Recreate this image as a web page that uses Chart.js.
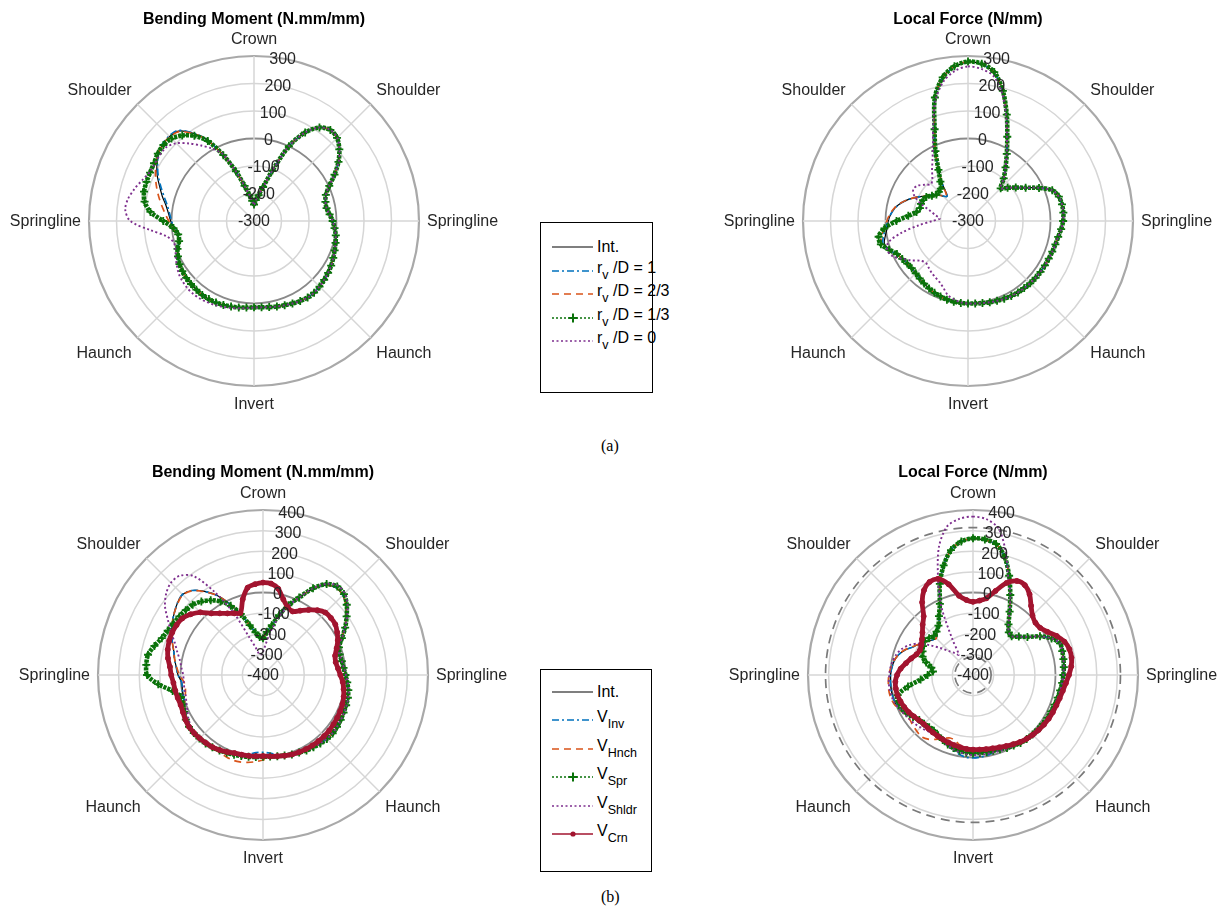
<!DOCTYPE html>
<html>
<head>
<meta charset="utf-8">
<script src="https://cdn.jsdelivr.net/npm/chart.js@4.4.1/dist/chart.umd.min.js"></script>
<style>
  html, body { margin: 0; padding: 0; background: #fff; }
  body { width: 1229px; height: 911px; position: relative; overflow: hidden;
         font-family: "Liberation Sans", Arial, Helvetica, sans-serif; }
  canvas { position: absolute; }
  .legend { position: absolute; border: 1.5px solid #000; background: #fff; box-sizing: border-box; }
  .legend svg { position: absolute; left: 11px; }
  .legend .lbl { position: absolute; left: 56px; font-size: 16px; line-height: 20px; color: #000; white-space: nowrap; }
  .legend sub { font-size: 12.5px; vertical-align: -6px; line-height: 0; }
  .cap { position: absolute; font-family: "Liberation Serif", "Times New Roman", serif; font-size: 16px; color: #000; }
</style>
</head>
<body>
<canvas id="bmA" width="500" height="440" style="left:4px;top:0px"></canvas>
<canvas id="lfA" width="500" height="440" style="left:718px;top:0px"></canvas>
<canvas id="bmB" width="500" height="440" style="left:13px;top:452px"></canvas>
<canvas id="lfB" width="500" height="440" style="left:723px;top:452px"></canvas>
<div class="legend" id="legA" style="left:540px;top:222px;width:113px;height:171px"></div>
<div class="legend" id="legB" style="left:540px;top:669px;width:112px;height:203px"></div>
<div class="cap" style="left:601px;top:437px">(a)</div>
<div class="cap" style="left:601px;top:888px">(b)</div>

<script>
// Angular positions around the ring, degrees clockwise from the crown
const ANGLES = [0,5,10,15,20,25,30,35,40,45,50,55,60,65,70,75,80,85,
  90,95,100,105,110,115,120,125,130,135,140,145,150,155,160,165,170,175,
  180,185,190,195,200,205,210,215,220,225,230,235,240,245,250,255,260,265,
  270,275,280,285,290,295,300,305,310,315,320,325,330,335,340,345,350,355];

const POSITION_LABELS = ['Crown','Shoulder','Springline','Haunch','Invert','Haunch','Springline','Shoulder'];
const TICKS_A = [-300,-200,-100,0,100,200,300];
const TICKS_B = [-400,-300,-200,-100,0,100,200,300,400];
const LIMIT_CIRCLES_B = [-312, 315];

// ---- (a) Bending moment, N.mm/mm ----
const BM_A_INT = [
 -240,-224,-205,-172,-105,0,72,115,132,
 127,105,75,38,2,-22,-31,-32,-24,
 -14,-6,2,7,12,18,24,29,33,
 37,40,40,36,31,26,22,18,15,
 14,16,19,22,25,27,28,28,26,
 24,22,18,13,5,-4,-18,-18,-8,
 3,12,25,45,65,88,108,125,133,
 134,127,90,40,-36,-108,-168,-205,-226];
const BM_A_R1 = [
 -240,-224,-205,-172,-105,0,72,115,132,
 127,105,75,38,2,-22,-31,-32,-24,
 -14,-6,2,7,12,18,24,29,33,
 37,40,40,36,31,26,22,18,15,
 14,16,19,22,25,27,28,28,26,
 24,22,18,13,5,-4,-18,-18,-8,
 0,8,20,38,60,84,105,124,135,
 137,130,92,42,-36,-108,-168,-205,-226];
const BM_A_R23 = [
 -240,-224,-205,-172,-105,0,72,115,132,
 127,105,75,38,2,-22,-31,-32,-24,
 -14,-6,2,7,12,18,24,29,33,
 37,40,40,36,31,26,22,18,15,
 14,16,19,22,25,27,28,28,26,
 24,22,18,13,5,-3,-16,-14,-4,
 10,25,42,60,78,95,112,126,133,
 133,124,88,40,-36,-108,-168,-205,-226];
const BM_A_R13 = [
 -240,-224,-205,-172,-105,0,72,115,132,
 127,105,75,38,2,-22,-31,-32,-24,
 -14,-6,2,7,12,18,24,29,33,
 37,40,40,36,31,26,22,18,15,
 14,16,19,22,25,27,28,28,26,
 24,22,18,13,5,-4,-18,-20,-6,
 30,78,104,114,116,117,120,127,130,
 124,106,78,36,-36,-108,-168,-205,-226];
const BM_A_R0 = [
 -240,-224,-205,-172,-105,0,72,115,132,
 128,106,76,38,2,-22,-31,-32,-24,
 -14,-6,2,7,12,18,24,29,33,
 37,40,40,36,31,26,22,18,15,
 15,18,22,27,32,37,41,44,45,
 44,40,34,24,14,4,2,22,79,
 150,170,165,150,133,119,117,118,117,
 100,68,35,4,-32,-108,-168,-205,-226];

// ---- (a) Local force, N/mm ----
const LF_A_INT = [
 278,272,248,190,112,38,-18,-62,-98,
 -132,-112,-88,-58,-15,26,42,47,48,
 46,40,33,29,26,24,23,22,21,
 20,18,17,15,12,9,6,3,1,
 0,-1,-2,-4,-8,-12,-17,-22,-27,
 -31,-33,-30,-24,-15,5,15,5,-5,
 -10,-18,-30,-48,-70,-95,-118,-135,-152,
 -172,-182,-140,-85,-20,55,165,230,263];
const LF_A_R1 = [
 278,272,248,190,112,38,-18,-62,-98,
 -132,-112,-88,-58,-15,26,42,47,48,
 46,40,33,29,26,24,23,22,21,
 20,18,17,15,12,9,6,3,1,
 0,-1,-2,-4,-8,-12,-17,-22,-27,
 -31,-33,-30,-24,-15,8,20,12,0,
 -8,-18,-30,-48,-70,-95,-118,-135,-152,
 -172,-182,-140,-85,-20,55,165,230,263];
const LF_A_R23 = [
 279,273,249,190,112,38,-18,-62,-98,
 -132,-112,-88,-58,-15,26,42,47,48,
 46,40,33,29,26,24,23,22,21,
 20,18,17,15,12,9,6,3,1,
 0,-1,-2,-4,-8,-12,-17,-22,-27,
 -31,-33,-30,-24,-15,10,25,20,5,
 -5,-15,-28,-47,-70,-95,-118,-136,-152,
 -170,-178,-138,-85,-20,55,165,230,265];
const LF_A_R13 = [
 280,274,250,190,112,38,-18,-62,-98,
 -132,-112,-88,-58,-15,26,42,47,48,
 46,40,33,29,26,24,23,22,21,
 20,18,17,15,12,9,6,3,1,
 0,-1,-2,-4,-8,-12,-17,-22,-27,
 -31,-33,-30,-24,-15,5,28,30,5,
 -40,-82,-110,-119,-118,-120,-125,-140,-150,
 -150,-146,-125,-85,-20,55,165,230,265];
const LF_A_R0 = [
 262,255,235,180,105,35,-18,-62,-98,
 -132,-112,-88,-58,-15,26,42,47,48,
 46,40,33,29,26,24,23,22,21,
 20,18,17,15,12,9,6,3,1,
 0,-3,-10,-20,-40,-55,-63,-70,-78,
 -84,-75,-50,-25,3,12,0,-55,-120,
 -170,-197,-180,-158,-118,-85,-70,-76,-95,
 -110,-98,-72,-42,2,70,155,215,248];

// ---- (b) Bending moment, N.mm/mm ----
const BM_B_INT = [
 -222,-190,-155,-100,-40,15,82,132,152,
 148,125,92,58,20,-8,-15,-12,-8,
 0,10,20,26,29,31,35,38,41,
 38,33,27,22,15,10,4,0,-3,
 -4,-1,3,7,11,16,22,28,33,
 36,38,36,30,15,5,0,-3,-4,
 12,22,35,48,68,88,108,125,142,
 152,135,95,45,-20,-85,-150,-190,-215];
const BM_B_INV = [
 -222,-190,-155,-100,-40,15,82,132,152,
 148,125,92,58,20,-8,-15,-12,-8,
 0,10,20,26,29,31,35,38,41,
 38,33,27,22,15,10,0,-8,-20,
 -25,-22,-10,3,11,16,22,28,33,
 36,38,36,30,15,5,0,-3,-4,
 12,22,35,48,68,88,108,125,142,
 152,135,95,45,-20,-85,-150,-190,-215];
const BM_B_HNCH = [
 -222,-190,-155,-100,-40,15,82,132,152,
 148,125,92,58,20,-8,-15,-12,-8,
 0,10,20,26,29,31,35,38,41,
 38,33,27,22,15,10,4,0,5,
 12,22,30,36,38,34,30,30,33,
 36,38,36,30,15,6,-10,-18,-15,
 5,20,35,48,68,88,108,125,140,
 150,133,93,45,-20,-85,-150,-190,-215];
const BM_B_SPR = [
 -222,-190,-155,-100,-40,15,85,138,160,
 155,130,95,60,22,-8,-15,-12,-8,
 0,10,20,26,29,31,35,38,41,
 38,33,27,22,15,10,4,0,-3,
 -4,-1,3,7,11,16,22,28,33,
 36,38,38,32,22,14,12,45,110,
 162,168,166,145,122,110,101,95,89,
 82,65,42,12,-30,-85,-150,-190,-215];
const BM_B_SHLDR = [
 -288,-250,-185,-115,-45,15,85,140,165,
 160,135,98,60,22,-8,-15,-12,-6,
 2,12,22,28,31,33,36,38,40,
 37,32,26,20,14,9,4,0,-3,
 -4,-1,3,7,11,16,22,27,31,
 33,33,28,18,5,-5,-12,-13,-14,
 -13,-3,9,30,55,92,132,180,213,
 232,228,185,60,-75,-205,-262,-298,-300];
const BM_B_CRN = [
 48,45,25,-20,-50,-60,-40,-15,10,
 28,30,28,15,0,-20,-38,-42,-35,
 -25,-12,-3,5,10,13,15,17,19,
 19,18,17,15,13,10,5,0,-4,
 -7,-5,-2,0,3,12,20,27,30,
 34,37,38,34,28,25,28,32,36,
 45,53,68,78,84,86,84,78,58,
 30,-10,-35,-55,-70,-80,-20,30,42];

// ---- (b) Local force, N/mm ----
const LF_B_INT = [
 260,257,243,193,112,28,-45,-100,-130,
 -135,-110,-78,-25,20,49,48,45,42,
 38,34,29,25,21,18,16,14,11,
 8,5,2,-5,-10,-17,-20,-20,-20,
 -20,-22,-27,-33,-42,-52,-62,-70,-70,
 -65,-60,-45,-25,-12,0,3,3,2,
 0,-5,-12,-25,-48,-78,-100,-120,-138,
 -148,-125,-108,-75,-18,70,150,215,250];
const LF_B_INV = [
 260,257,243,193,112,28,-45,-100,-130,
 -135,-110,-78,-25,20,49,48,45,42,
 38,34,29,25,21,18,16,14,11,
 8,5,2,-5,-10,-15,-12,-5,0,
 2,0,-10,-25,-40,-52,-62,-70,-70,
 -65,-60,-45,-25,-12,0,3,3,2,
 0,-5,-12,-25,-48,-78,-100,-120,-138,
 -148,-125,-108,-75,-18,70,150,215,250];
const LF_B_HNCH = [
 261,258,244,193,112,28,-45,-100,-130,
 -135,-110,-78,-25,20,49,48,45,42,
 38,34,29,25,21,18,16,14,11,
 8,5,2,-5,-10,-17,-20,-20,-20,
 -20,-30,-50,-70,-75,-60,-40,-20,-10,
 -15,-20,-25,-20,-5,8,14,15,12,
 8,0,-10,-24,-46,-76,-100,-120,-138,
 -148,-125,-108,-75,-18,70,150,215,250];
const LF_B_SPR = [
 263,260,245,193,112,28,-45,-100,-130,
 -135,-110,-78,-25,20,49,48,45,42,
 38,34,29,25,21,18,16,14,11,
 8,5,2,-5,-10,-17,-20,-20,-20,
 -20,-22,-27,-33,-42,-52,-62,-70,-70,
 -65,-60,-45,-28,-18,-12,-22,-80,-145,
 -180,-205,-195,-165,-140,-130,-120,-113,-122,
 -132,-125,-108,-70,-20,70,150,215,250];
const LF_B_SHLDR = [
 368,358,320,215,100,28,-45,-100,-130,
 -135,-110,-78,-25,20,49,48,45,42,
 38,34,29,25,21,18,16,14,11,
 8,5,2,-3,-7,-10,-12,-12,-12,
 -12,-14,-20,-28,-38,-48,-55,-55,-48,
 -40,-32,-25,-18,-8,2,8,10,10,
 6,2,-5,-15,-32,-58,-95,-150,-198,
 -237,-261,-280,-200,-40,95,240,330,360];
const LF_B_CRN = [
 -45,-38,-22,22,75,103,103,78,38,
 8,-5,-2,18,48,72,84,85,78,
 65,52,42,35,30,27,24,20,15,
 10,4,-3,-12,-20,-27,-32,-35,-37,
 -38,-40,-44,-48,-52,-55,-58,-60,-62,
 -63,-58,-50,-40,-32,-26,-21,-20,-22,
 -32,-48,-70,-90,-108,-116,-110,-98,-80,
 -55,-28,30,75,98,96,55,-10,-35];

// Line styles shared by the plots and the legends
const STYLES = {
  int:   { color: '#000000', width: 1.2, dash: [] },
  blue:  { color: '#0072BD', width: 1.7, dash: [7, 3, 2, 3] },
  orange:{ color: '#D95319', width: 1.7, dash: [7, 5] },
  green: { color: '#0A720A', width: 4.6, dash: [3, 1], marker: 'cross' },
  purple:{ color: '#7E2F8E', width: 1.9, dash: [2, 2.5] },
  red:   { color: '#A2142F', width: 4.8, dash: [], marker: 'dot' }
};

function makeDataset(key, data, order) {
  const st = STYLES[key];
  const ds = {
    data: data, fill: false, order: order,
    borderColor: st.color, borderWidth: st.width, borderDash: st.dash,
    tension: 0.3, pointRadius: 0, pointHoverRadius: 0
  };
  if (st.marker === 'cross') {
    Object.assign(ds, { pointStyle: 'cross', pointRadius: 4, pointBorderWidth: 1.8,
                        pointBorderColor: st.color, pointBackgroundColor: st.color });
  } else if (st.marker === 'dot') {
    Object.assign(ds, { pointStyle: 'circle', pointRadius: 2.5, pointBorderWidth: 1,
                        pointBorderColor: st.color, pointBackgroundColor: st.color });
  }
  return ds;
}

const DEG = Math.PI / 180;
const FONT = '"Liberation Sans", Arial, Helvetica, sans-serif';

// Title, ring position names, radial tick labels and limit circles
function decorPlugin(title, titleY, ticks, limits) {
  return {
    id: 'polarDecor',
    beforeDatasetsDraw(chart) {
      const s = chart.scales.r, ctx = chart.ctx;
      limits.forEach(v => {
        const d = s.getDistanceFromCenterForValue(v);
        ctx.save();
        ctx.strokeStyle = '#7a7a7a'; ctx.lineWidth = 1.7; ctx.setLineDash([9, 6]);
        ctx.beginPath(); ctx.arc(s.xCenter, s.yCenter, d, 0, 2 * Math.PI); ctx.stroke();
        ctx.restore();
      });
    },
    afterDraw(chart) {
      const s = chart.scales.r, ctx = chart.ctx;
      ctx.save();
      ctx.fillStyle = '#000';
      ctx.font = 'bold 16px ' + FONT;
      ctx.textAlign = 'center'; ctx.textBaseline = 'middle';
      ctx.fillText(title, s.xCenter, titleY);

      ctx.fillStyle = '#262626';
      ctx.font = '16px ' + FONT;
      const R = s.drawingArea + 8, h = 19;
      POSITION_LABELS.forEach((txt, k) => {
        const a = k * 45;
        const x = s.xCenter + R * Math.sin(a * DEG);
        let y = s.yCenter - R * Math.cos(a * DEG);
        ctx.textAlign = (a === 0 || a === 180) ? 'center' : (a < 180 ? 'left' : 'right');
        if (a === 90 || a === 270) y -= h / 2; else if (a > 270 || a < 90) y -= h;
        ctx.textBaseline = 'middle';
        ctx.fillText(txt, x, y + h / 2 + 1);
      });

      ctx.textAlign = 'center'; ctx.textBaseline = 'middle';
      ticks.forEach(v => {
        const d = s.getDistanceFromCenterForValue(v);
        ctx.fillText(String(v), s.xCenter + d * Math.sin(10 * DEG), s.yCenter - d * Math.cos(10 * DEG) + 1);
      });
      ctx.restore();
    }
  };
}

function makeChart(id, series, lo, hi, ticks, pad, title, titleY, limits) {
  const n = series.length;
  return new Chart(document.getElementById(id), {
    type: 'radar',
    data: {
      labels: ANGLES,
      datasets: series.map((s, i) => makeDataset(s[0], s[1], n - i))
    },
    options: {
      responsive: false, maintainAspectRatio: false, devicePixelRatio: 1,
      animation: false, events: [],
      layout: { padding: pad },
      plugins: { legend: { display: false }, tooltip: { enabled: false }, title: { display: false } },
      scales: {
        r: {
          min: lo, max: hi,
          ticks: { display: false, stepSize: 100 },
          pointLabels: { display: false },
          grid: {
            circular: true,
            color: c => c.tick.value === 0 ? '#8a8a8a' : (c.tick.value === hi ? '#a9a9a9' : '#d6d6d6'),
            lineWidth: c => c.tick.value === 0 ? 1.8 : (c.tick.value === hi ? 2.2 : 1.5)
          },
          angleLines: {
            color: c => (c.index % 9 === 0) ? '#d6d6d6' : 'rgba(0,0,0,0)',
            lineWidth: c => (c.index % 9 === 0) ? 1.5 : 0
          }
        }
      }
    },
    plugins: [decorPlugin(title, titleY, ticks, limits)]
  });
}

const PAD_A = { left: 85, right: 85, top: 56, bottom: 54 };
const PAD_B = { left: 85, right: 85, top: 58, bottom: 52 };

makeChart('bmA', [['int', BM_A_INT], ['blue', BM_A_R1], ['orange', BM_A_R23], ['green', BM_A_R13], ['purple', BM_A_R0]],
  -300, 300, TICKS_A, PAD_A, 'Bending Moment (N.mm/mm)', 20, []);
makeChart('lfA', [['int', LF_A_INT], ['blue', LF_A_R1], ['orange', LF_A_R23], ['green', LF_A_R13], ['purple', LF_A_R0]],
  -300, 300, TICKS_A, PAD_A, 'Local Force (N/mm)', 20, []);
makeChart('bmB', [['int', BM_B_INT], ['blue', BM_B_INV], ['orange', BM_B_HNCH], ['green', BM_B_SPR], ['purple', BM_B_SHLDR], ['red', BM_B_CRN]],
  -400, 400, TICKS_B, PAD_B, 'Bending Moment (N.mm/mm)', 21, []);
makeChart('lfB', [['int', LF_B_INT], ['blue', LF_B_INV], ['orange', LF_B_HNCH], ['green', LF_B_SPR], ['purple', LF_B_SHLDR], ['red', LF_B_CRN]],
  -400, 400, TICKS_B, PAD_B, 'Local Force (N/mm)', 21, LIMIT_CIRCLES_B);

// Legends
const LEGEND_A = [
  ['int', 'Int.'],
  ['blue', 'r<sub>v</sub> /D = 1'],
  ['orange', 'r<sub>v</sub> /D = 2/3'],
  ['green', 'r<sub>v</sub> /D = 1/3'],
  ['purple', 'r<sub>v</sub> /D = 0']
];
const LEGEND_B = [
  ['int', 'Int.'],
  ['blue', 'V<sub>Inv</sub>'],
  ['orange', 'V<sub>Hnch</sub>'],
  ['green', 'V<sub>Spr</sub>'],
  ['purple', 'V<sub>Shldr</sub>'],
  ['red', 'V<sub>Crn</sub>']
];

function sampleSvg(key) {
  const st = STYLES[key];
  const dash = key === 'green' ? [2, 2] : st.dash;
  const w = (key === 'green' || key === 'purple' || key === 'red') ? 1.6 : st.width;
  let s = '<svg width="44" height="14" viewBox="0 0 44 14">' +
    '<line x1="0" y1="7" x2="41" y2="7" stroke="' + st.color + '" stroke-width="' + w + '"' +
    (dash.length ? ' stroke-dasharray="' + dash.join(' ') + '"' : '') + '/>';
  if (st.marker === 'cross') {
    s += '<path d="M16.5 7 H25.5 M21 2.5 V11.5" stroke="' + st.color + '" stroke-width="2"/>';
  } else if (st.marker === 'dot') {
    s += '<circle cx="21" cy="7" r="2.6" fill="' + st.color + '"/>';
  }
  return s + '</svg>';
}

function buildLegend(id, items, firstY, step) {
  const box = document.getElementById(id);
  items.forEach((it, i) => {
    const y = firstY + i * step;
    const svgWrap = document.createElement('div');
    svgWrap.innerHTML = sampleSvg(it[0]);
    const svg = svgWrap.firstChild;
    svg.style.top = (y - 7) + 'px';
    box.appendChild(svg);
    const lbl = document.createElement('div');
    lbl.className = 'lbl';
    lbl.innerHTML = it[1];
    lbl.style.top = (y - (i === 0 ? 10 : 13)) + 'px';
    box.appendChild(lbl);
  });
}
buildLegend('legA', LEGEND_A, 24, 23.6);
buildLegend('legB', LEGEND_B, 22, 28.4);
</script>
</body>
</html>
